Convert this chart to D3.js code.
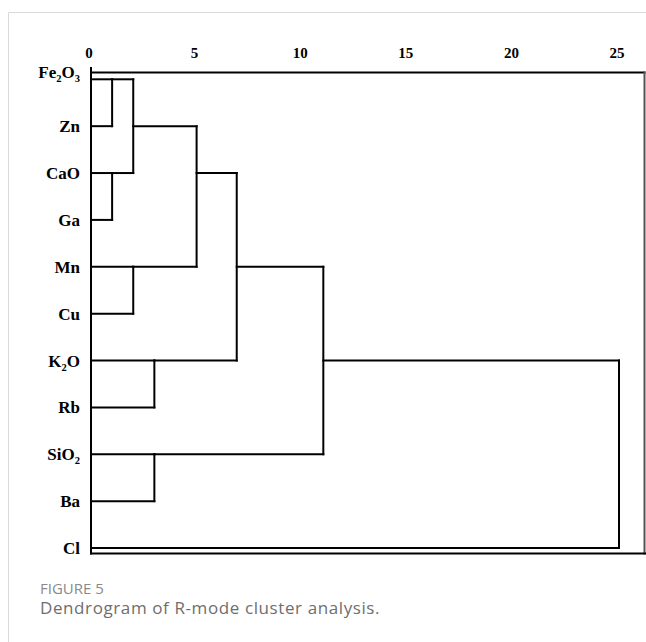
<!DOCTYPE html>
<html>
<head>
<meta charset="utf-8">
<script src="https://cdn.jsdelivr.net/npm/d3@7"></script>
<style>
  body { margin: 0; background: #fff; }
  svg { display: block; }
  .axis text, .leaf { font-family: "Liberation Serif", "Times New Roman", serif; font-weight: bold; fill: #000; }
  .cap { font-family: "Open Sans", sans-serif; }
</style>
</head>
<body>
<svg id="chart" width="646" height="642"></svg>
<script>
const leafLabels = ["Fe2O3", "Zn", "CaO", "Ga", "Mn", "Cu", "K2O", "Rb", "SiO2", "Ba", "Cl"];

// merge steps: a, b = node ids (leaves 0..10, merges 11..), dist = rescaled distance,
// row = leaf row where the merged cluster's line is drawn
const merges = [
    { a: 0,  b: 1,  dist: 1,   row: 0 },
    { a: 2,  b: 3,  dist: 1,   row: 2 },
    { a: 4,  b: 5,  dist: 2,   row: 4 },
    { a: 11, b: 12, dist: 2,   row: 1 },
    { a: 6,  b: 7,  dist: 3,   row: 6 },
    { a: 8,  b: 9,  dist: 3,   row: 8 },
    { a: 14, b: 13, dist: 5,   row: 2 },
    { a: 17, b: 15, dist: 6.9, row: 4 },
    { a: 18, b: 16, dist: 11,  row: 6 },
    { a: 19, b: 10, dist: 25,  row: null }
];

const tickValues = [0, 5, 10, 15, 20, 25];

const svg = d3.select("#chart");
const width = 646;

const x = d3.scaleLinear().domain([0, 25]).range([91, 619]);
const y = d3.scaleLinear().domain([0, leafLabels.length - 1]).range([79.3, 548]);

// card border
svg.append("path")
    .attr("d", "M8.5,642 V12.5 H646")
    .attr("fill", "none")
    .attr("stroke", "#dadada")
    .attr("stroke-width", 1);

// build nodes
const nodes = leafLabels.map((name, i) => ({ h: 0, row: i, name }));
merges.forEach(m => nodes.push({ h: m.dist, row: m.row, a: m.a, b: m.b }));
const parent = {};
merges.forEach((m, i) => { parent[m.a] = leafLabels.length + i; parent[m.b] = leafLabels.length + i; });

const frameTop = 72.5, frameBottom = 553.5;
const g = svg.append("g")
    .attr("fill", "none")
    .attr("stroke", "#000")
    .attr("stroke-width", 2)
    .attr("stroke-linecap", "square");

// frame
g.append("path").attr("d", `M${x(0)},${frameTop} H${width - 1.5}`);
g.append("path").attr("d", `M${width - 1.5},${frameTop} V${frameBottom}`).attr("stroke", "#555");
g.append("path").attr("d", `M${x(0)},${frameBottom} H${width}`);
g.append("path").attr("d", `M${x(0)},68 V${frameBottom}`);

// horizontal segments
const hSegs = nodes.map((n, i) => ({ n, p: parent[i] })).filter(d => d.p !== undefined);
g.selectAll(".hseg")
    .data(hSegs)
    .join("path")
    .attr("class", "hseg")
    .attr("d", d => `M${x(d.n.h)},${y(d.n.row)} H${x(nodes[d.p].h)}`);

// vertical segments
g.selectAll(".vseg")
    .data(merges)
    .join("path")
    .attr("class", "vseg")
    .attr("d", m => `M${x(m.dist)},${y(nodes[m.a].row)} V${y(nodes[m.b].row)}`);

// axis
const axis = d3.axisTop(x).tickValues(tickValues).tickSize(0).tickPadding(15);
const ag = svg.append("g").attr("class", "axis").attr("transform", `translate(0,${frameTop})`).call(axis);
ag.select(".domain").remove();
ag.selectAll("text").attr("font-size", 15).attr("font-family", null).attr("dx", -2.5);

// leaf labels with subscripts (first one sits a bit above its line, as in the source)
const labels = svg.selectAll(".leaf")
    .data(leafLabels)
    .join("text")
    .attr("class", "leaf")
    .attr("x", 80)
    .attr("y", (d, i) => y(i) + (i === 0 ? -1 : 6))
    .attr("text-anchor", "end")
    .attr("font-size", 17);

labels.each(function(d) {
    const t = d3.select(this);
    const parts = d.match(/[A-Za-z]+|\d+/g);
    let sub = false;
    parts.forEach(p => {
        const isNum = /\d/.test(p);
        const ts = t.append("tspan").text(p);
        if (isNum) { ts.attr("font-size", 10.5).attr("dy", 4); sub = true; }
        else if (sub) { ts.attr("dy", -4); sub = false; }
    });
});

// caption
svg.append("text").attr("class", "cap")
    .attr("x", 40).attr("y", 594)
    .attr("font-size", 15).attr("fill", "#8a8a8a")
    .text("FIGURE 5");
svg.append("text").attr("class", "cap")
    .attr("x", 40).attr("y", 614)
    .attr("font-size", 17).attr("letter-spacing", 0.6).attr("fill", "#6e6e6e")
    .text("Dendrogram of R-mode cluster analysis.");
</script>
</body>
</html>
